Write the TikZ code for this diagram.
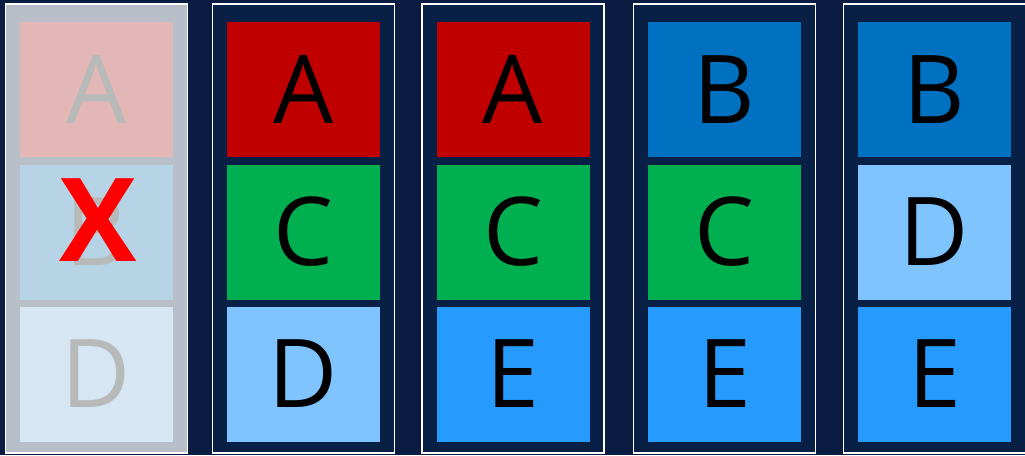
\documentclass[tikz,border=0pt]{standalone}
\usepackage{fontspec}
\setmainfont{Open Sans}
\usepackage{tikz}
\usetikzlibrary{positioning}
\usepackage{xcolor}
\definecolor{pageBg}{RGB}{10, 28, 66}
\definecolor{colBg}{RGB}{8, 31, 70}
\definecolor{fadeBg}{RGB}{185, 191, 201}
\definecolor{fadeA}{RGB}{228, 183, 183}
\definecolor{fadeB}{RGB}{183, 212, 230}
\definecolor{fadeD}{RGB}{214, 230, 243}
\definecolor{fadeTxt}{RGB}{184, 186, 186}
\definecolor{keyA}{RGB}{192, 0, 0}
\definecolor{keyB}{RGB}{0, 112, 192}
\definecolor{keyC}{RGB}{0, 176, 80}
\definecolor{keyD}{RGB}{128, 196, 255}
\definecolor{keyE}{RGB}{38, 154, 255}

\begin{document}
\begin{tikzpicture}[x=1pt, y=-1pt,
  colframe/.style={draw=white, line width=1.5pt, minimum width=182pt, minimum height=449pt, inner sep=0pt},
  keybox/.style={minimum width=153pt, minimum height=135pt, inner sep=0pt,
    font=\fontsize{95pt}{95pt}\selectfont}]
  \fill[pageBg] (0,0) rectangle (1025,455);
  \useasboundingbox (0,0) rectangle (1025,455);

  % removed entry
  \node[colframe, fill=fadeBg] (frame1) at (96.5,228.5) {};
  \node[keybox, fill=fadeA, text=fadeTxt] (a1) at (96.5,89.5) {A};
  \node[keybox, fill=fadeB, text=fadeTxt] (b1) at (96.5,232) {B};
  \node[keybox, fill=fadeD, text=fadeTxt] (d1) at (96.5,374) {D};
  \node[text=red, font=\fontsize{116pt}{116pt}\bfseries\selectfont, inner sep=0pt] (xmark) at (98,220) {X};

  % remaining entries
  \foreach \cx/\n/\la/\ca/\lb/\cb/\lc/\cc in {
      303.5/2/A/keyA/C/keyC/D/keyD,
      513/3/A/keyA/C/keyC/E/keyE,
      724.5/4/B/keyB/C/keyC/E/keyE,
      934.5/5/B/keyB/D/keyD/E/keyE} {
    \node[colframe, fill=colBg] (frame\n) at (\cx,228.5) {};
    \node[keybox, fill=\ca] (top\n) at (\cx,89.5) {\la};
    \node[keybox, fill=\cb] (mid\n) at (\cx,232) {\lb};
    \node[keybox, fill=\cc] (bot\n) at (\cx,374) {\lc};
  }
\end{tikzpicture}
\end{document}
